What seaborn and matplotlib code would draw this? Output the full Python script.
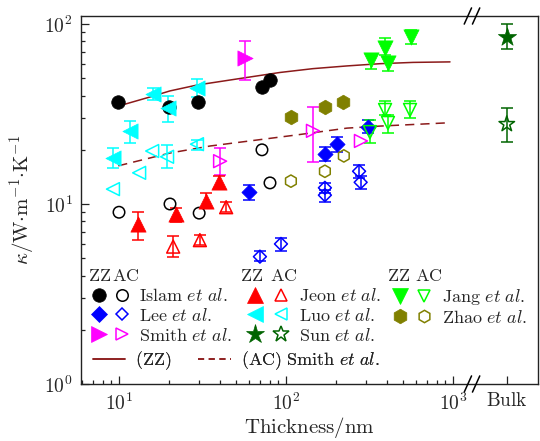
import numpy as np
import matplotlib
matplotlib.use("Agg")
import matplotlib.pyplot as plt
from matplotlib.lines import Line2D
from matplotlib.legend_handler import HandlerTuple
from matplotlib.ticker import FixedLocator, FixedFormatter, NullFormatter
import seaborn as sns

# ---------------------------------------------------------------- data
BULK = 2100.0            # where the bulk column sits on the thickness axis
BREAK = 1300.0           # axis break between thin films and bulk

islam_zz_x = [9.9, 19.9, 29.7, 71.8, 80.2]
islam_zz_y = [36.9, 34.6, 36.9, 44.7, 48.9]
islam_ac_x = [10.0, 20.2, 30.2, 71.8, 80.2]
islam_ac_y = [9.0, 10.0, 8.9, 20.0, 13.1]

lee_zz_x = [60.0, 171.0, 202.0, 310.0]
lee_zz_y = [11.7, 19.0, 21.5, 26.8]
lee_zz_lo = [10.5, 17.3, 19.5, 24.8]
lee_zz_hi = [12.8, 20.7, 23.5, 29.3]
lee_ac_x = [69.8, 93.3, 171.0, 171.0, 274.0, 280.0]
lee_ac_y = [5.1, 6.0, 12.3, 11.2, 15.2, 13.2]
lee_ac_lo = [4.8, 5.5, 11.5, 10.3, 14.0, 12.1]
lee_ac_hi = [5.5, 6.5, 13.1, 11.9, 16.5, 14.3]

smith_zz_x = [56.8]
smith_zz_y = [64.7]
smith_zz_lo = [48.9]
smith_zz_hi = [80.5]
smith_ac_x = [40.3, 145.0, 281.0]
smith_ac_y = [17.3, 25.5, 22.4]
smith_ac_lo = [14.5, 17.1, None]
smith_ac_hi = [20.5, 34.6, None]

jeon_zz_x = [13.0, 21.9, 33.2, 39.7]
jeon_zz_y = [7.7, 8.8, 10.4, 13.2]
jeon_zz_lo = [6.3, 7.9, 9.5, 12.2]
jeon_zz_hi = [9.0, 9.5, 11.5, 14.3]
jeon_ac_x = [21.1, 30.5, 43.8]
jeon_ac_y = [5.8, 6.3, 9.6]
jeon_ac_lo = [5.1, 5.9, 9.0]
jeon_ac_hi = [6.6, 6.7, 10.3]

luo_zz_x = [9.2, 11.6, 16.0, 19.6, 29.3]
luo_zz_y = [18.0, 25.5, 40.9, 34.2, 44.1]
luo_zz_lo = [15.8, 21.8, 37.8, 28.5, 39.3]
luo_zz_hi = [20.5, 28.9, 44.1, 39.8, 49.5]
luo_ac_x = [9.2, 13.2, 15.8, 19.4, 29.3]
luo_ac_y = [12.1, 14.9, 19.7, 18.3, 21.5]
luo_ac_lo = [None, None, None, 15.8, 20.0]
luo_ac_hi = [None, None, None, 21.2, 22.8]

sun_zz_x = [BULK]
sun_zz_y = [84.7]
sun_zz_lo = [72.7]
sun_zz_hi = [100.0]
sun_ac_x = [BULK]
sun_ac_y = [27.8]
sun_ac_lo = [22.1]
sun_ac_hi = [34.1]

jang_zz_x = [323.0, 392.0, 408.0, 561.0]
jang_zz_y = [63.1, 73.6, 60.7, 84.7]
jang_zz_lo = [56.2, 67.3, 54.8, 77.4]
jang_zz_hi = [68.1, 83.6, 65.6, 92.6]
jang_ac_x = [318.0, 392.0, 408.0, 553.0]
jang_ac_y = [25.1, 33.3, 28.2, 33.3]
jang_ac_lo = [21.8, 31.2, 24.8, 30.0]
jang_ac_hi = [29.3, 37.3, 31.2, 37.3]

zhao_zz_x = [107.0, 171.0, 219.0]
zhao_zz_y = [30.4, 34.6, 36.9]
zhao_ac_x = [107.0, 171.0, 222.0]
zhao_ac_y = [13.4, 15.2, 18.5]

# Smith et al. model curves
model_zz_x = [9.9, 15.3, 20.2, 29.3, 55.3, 92.0, 145.0, 232.0, 366.0, 576.0, 960.0]
model_zz_y = [35.0, 39.3, 42.5, 45.8, 50.1, 53.8, 56.5, 58.5, 60.2, 61.2, 61.6]
model_ac_x = [9.9, 20.2, 35.1, 116.0, 232.0, 366.0, 895.0]
model_ac_y = [16.3, 19.2, 21.0, 24.2, 26.4, 27.1, 28.2]

x_major = [10, 100, 1000, BULK]
x_major_labels = [r"$10^{1}$", r"$10^{2}$", r"$10^{3}$", r"$\mathrm{Bulk}$"]
y_major = [1, 10, 100]
y_major_labels = [r"$10^{0}$", r"$10^{1}$", r"$10^{2}$"]

# ---------------------------------------------------------------- style
sns.set_style("ticks")
plt.rcParams["font.family"] = ["DejaVu Serif"]
plt.rcParams["mathtext.fontset"] = "cm"

C_BLACK = "#000000"
C_BLUE = "#0000ff"
C_MAG = "#ff00ff"
C_RED = "#ff0000"
C_CYAN = "#00ffff"
C_DKGREEN = "#006400"
C_LIME = "#00ff00"
C_OLIVE = "#808000"
C_MODEL = "#8b1a1a"

fig = plt.figure(figsize=(5.4, 4.41), dpi=100)
ax = fig.add_axes([81 / 540, 1 - 384 / 441, 457 / 540, 368 / 441])

SIZE = {"o": 95, "D": 60, ">": 120, "^": 120, "<": 120, "*": 190, "v": 120, "h": 110}


def series(x, y, marker, color, filled, lo=None, hi=None):
    x = np.asarray(x, float)
    y = np.asarray(y, float)
    if lo is not None:
        lo_a = np.array([np.nan if v is None else v for v in lo], float)
        hi_a = np.array([np.nan if v is None else v for v in hi], float)
        ok = ~np.isnan(lo_a)
        ax.errorbar(x[ok], y[ok], yerr=[y[ok] - lo_a[ok], hi_a[ok] - y[ok]],
                    fmt="none", ecolor=color, elinewidth=1.1, capsize=4.2,
                    capthick=1.1, zorder=3)
    s = SIZE[marker]
    if filled:
        sns.scatterplot(x=x, y=y, marker=marker, s=s, color=color,
                        edgecolor=color, linewidth=0.5, ax=ax, zorder=4)
    else:
        sns.scatterplot(x=x, y=y, marker=marker, s=s * 0.72, facecolor="none",
                        edgecolor=color, linewidth=1.1, ax=ax, zorder=4)


# model curves
sns.lineplot(x=model_zz_x, y=model_zz_y, color=C_MODEL, lw=1.1, ax=ax, zorder=2)
sns.lineplot(x=model_ac_x, y=model_ac_y, color=C_MODEL, lw=1.1, ax=ax, zorder=2,
             dashes=False, linestyle=(0, (6, 4)))

series(islam_zz_x, islam_zz_y, "o", C_BLACK, True)
series(islam_ac_x, islam_ac_y, "o", C_BLACK, False)
series(lee_zz_x, lee_zz_y, "D", C_BLUE, True, lee_zz_lo, lee_zz_hi)
series(lee_ac_x, lee_ac_y, "D", C_BLUE, False, lee_ac_lo, lee_ac_hi)
series(smith_zz_x, smith_zz_y, ">", C_MAG, True, smith_zz_lo, smith_zz_hi)
series(smith_ac_x, smith_ac_y, ">", C_MAG, False, smith_ac_lo, smith_ac_hi)
series(jeon_zz_x, jeon_zz_y, "^", C_RED, True, jeon_zz_lo, jeon_zz_hi)
series(jeon_ac_x, jeon_ac_y, "^", C_RED, False, jeon_ac_lo, jeon_ac_hi)
series(luo_zz_x, luo_zz_y, "<", C_CYAN, True, luo_zz_lo, luo_zz_hi)
series(luo_ac_x, luo_ac_y, "<", C_CYAN, False, luo_ac_lo, luo_ac_hi)
series(sun_zz_x, sun_zz_y, "*", C_DKGREEN, True, sun_zz_lo, sun_zz_hi)
series(sun_ac_x, sun_ac_y, "*", C_DKGREEN, False, sun_ac_lo, sun_ac_hi)
series(jang_zz_x, jang_zz_y, "v", C_LIME, True, jang_zz_lo, jang_zz_hi)
series(jang_ac_x, jang_ac_y, "v", C_LIME, False, jang_ac_lo, jang_ac_hi)
series(zhao_zz_x, zhao_zz_y, "h", C_OLIVE, True)
series(zhao_ac_x, zhao_ac_y, "h", C_OLIVE, False)

# ---------------------------------------------------------------- axes
ax.set_xscale("log")
ax.set_yscale("log")
ax.set_xlim(5.92, 3230)
ax.set_ylim(1, 110.8)

ax.xaxis.set_major_locator(FixedLocator(x_major))
ax.xaxis.set_major_formatter(FixedFormatter(x_major_labels))
x_minor = [m * d for d in (1, 10, 100) for m in range(2, 10) if 5.92 < m * d < 1000]
ax.xaxis.set_minor_locator(FixedLocator(x_minor))
ax.xaxis.set_minor_formatter(NullFormatter())
ax.yaxis.set_major_locator(FixedLocator(y_major))
ax.yaxis.set_major_formatter(FixedFormatter(y_major_labels))
y_minor = [m * d for d in (1, 10) for m in range(2, 10)]
ax.yaxis.set_minor_locator(FixedLocator(y_minor))
ax.yaxis.set_minor_formatter(NullFormatter())

ax.tick_params(which="both", direction="in", top=False, right=False,
               color="#222222", width=0.9, labelsize=14)
ax.tick_params(which="major", length=5.5, pad=6)
ax.tick_params(which="minor", length=3)
for sp in ax.spines.values():
    sp.set_visible(True)
    sp.set_linewidth(1.0)
    sp.set_color("#222222")

ax.set_xlabel(r"$\mathrm{Thickness/nm}$", fontsize=15, labelpad=1)
ax.set_ylabel(r"$\kappa/\mathrm{W{\cdot}m^{-1}{\cdot}K^{-1}}$", fontsize=15, labelpad=5)

# axis break marks
bx = (np.log10(BREAK) - np.log10(5.92)) / (np.log10(3230) - np.log10(5.92))
for yb in (0.0, 1.0):
    for dx in (-0.009, 0.009):
        ax.plot([bx + dx - 0.008, bx + dx + 0.008], [yb - 0.022, yb + 0.022],
                transform=ax.transAxes, color="black", lw=1.1, clip_on=False, zorder=6)

# ---------------------------------------------------------------- legend
def pair(marker, color):
    s = SIZE[marker]
    ms_f = np.sqrt(s)
    ms_o = np.sqrt(s * 0.72)
    f = Line2D([], [], ls="none", marker=marker, ms=ms_f, mfc=color, mec=color, mew=0.5)
    o = Line2D([], [], ls="none", marker=marker, ms=ms_o, mfc="none", mec=color, mew=1.1)
    return (f, o)


def axx(px):
    return (px - 81) / 457


def axy(py):
    return (384 - py) / 368


LEG_FS = 13
groups = [
    ([pair("o", C_BLACK), pair("D", C_BLUE), pair(">", C_MAG)],
     [r"$\mathrm{Islam}\ et\ al.$", r"$\mathrm{Lee}\ et\ al.$", r"$\mathrm{Smith}\ et\ al.$"],
     87.5, 2.56, 0.3),
    ([pair("^", C_RED), pair("<", C_CYAN), pair("*", C_DKGREEN)],
     [r"$\mathrm{Jeon}\ et\ al.$", r"$\mathrm{Luo}\ et\ al.$", r"$\mathrm{Sun}\ et\ al.$"],
     242, 2.89, 0.28),
    ([pair("v", C_LIME), pair("h", C_OLIVE)],
     [r"$\mathrm{Jang}\ et\ al.$", r"$\mathrm{Zhao}\ et\ al.$"],
     388, 2.67, 0.33),
]
for handles, labels, x0, hl, htp in groups:
    leg = ax.legend(handles, labels, handler_map={tuple: HandlerTuple(ndivide=None, pad=0)},
                    loc="upper left", bbox_to_anchor=(axx(x0), axy(287)),
                    frameon=False, fontsize=LEG_FS, handlelength=hl, handletextpad=htp,
                    borderpad=0, borderaxespad=0, labelspacing=0.1)
    ax.add_artist(leg)

line_handles = [Line2D([], [], color=C_MODEL, lw=1.1),
                Line2D([], [], color=C_MODEL, lw=1.1, ls=(0, (4, 3)))]
leg = ax.legend(line_handles, [r"$\mathrm{(ZZ)}$", r"$\mathrm{(AC)\ Smith}\ et\ al.$"],
                loc="upper left", bbox_to_anchor=(axx(93), axy(349)), ncol=2,
                frameon=False, fontsize=LEG_FS, handlelength=1.78, handletextpad=0.55,
                columnspacing=1.5, borderpad=0, borderaxespad=0)
ax.add_artist(leg)

for xz, xa in ((100, 126), (252, 284), (399, 429)):
    ax.text(axx(xz), axy(276), r"$\mathrm{ZZ}$", transform=ax.transAxes,
            ha="center", va="center", fontsize=LEG_FS)
    ax.text(axx(xa), axy(276), r"$\mathrm{AC}$", transform=ax.transAxes,
            ha="center", va="center", fontsize=LEG_FS)

fig.savefig("out.png", dpi=100)
